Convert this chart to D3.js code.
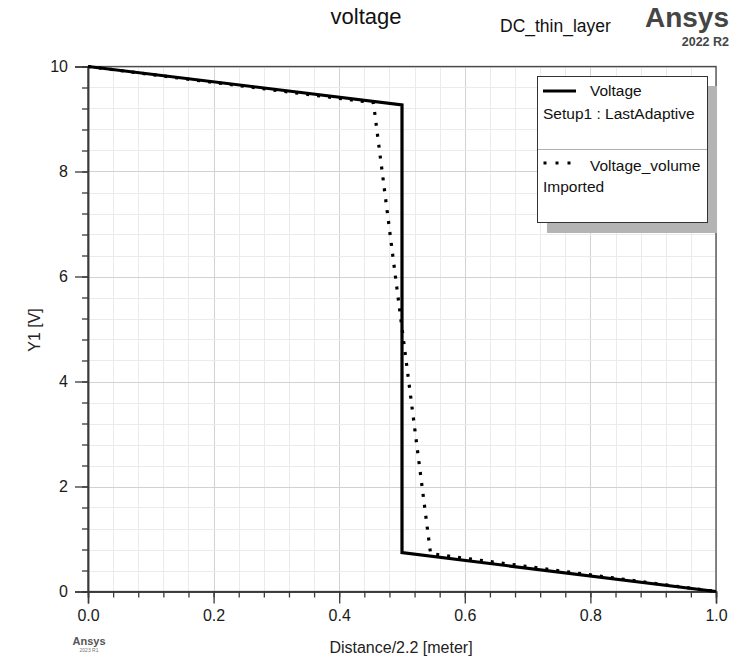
<!DOCTYPE html>
<html>
<head>
<meta charset="utf-8">
<script src="https://cdn.jsdelivr.net/npm/d3@7"></script>
<style>
  html, body { margin: 0; padding: 0; background: #fff; }
  svg { display: block; font-family: "Liberation Sans", Arial, sans-serif; }
</style>
</head>
<body>
<svg id="chart" width="738" height="659"></svg>
<script>
// ---- data ----
const xTickLabels = ["0.0", "0.2", "0.4", "0.6", "0.8", "1.0"];
const yTickLabels = ["0", "2", "4", "6", "8", "10"];
const voltageX = [0, 0.5, 0.5, 1.0];
const voltageY = [10, 9.27, 0.74, 0];
const volumeX = [0, 0.4545, 0.5455, 1.0];
const volumeY = [10, 9.31, 0.72, 0];
const legendItems = ["Voltage", "Setup1 : LastAdaptive", "Voltage_volume", "Imported"];

// ---- layout ----
const svg = d3.select("#chart");
const L = 88, R = 716, T = 66.5, B = 591.5;
const x = d3.scaleLinear().domain([0, 1]).range([L, R]);
const y = d3.scaleLinear().domain([0, 10]).range([B, T]);

const xMinor = d3.range(0, 1.0001, 0.04);
const yMinor = d3.range(0, 10.0001, 0.4);
const xMajor = xTickLabels.map(Number);
const yMajor = yTickLabels.map(Number);

// grid
const grid = svg.append("g");
grid.selectAll("line.vx").data(xMinor).join("line")
  .attr("x1", d => Math.round(x(d)) + 0.5).attr("x2", d => Math.round(x(d)) + 0.5)
  .attr("y1", T).attr("y2", B)
  .attr("stroke", d => xMajor.some(m => Math.abs(m - d) < 1e-6) ? "#d2d2d2" : "#ebebeb")
  .attr("stroke-width", 1);
grid.selectAll("line.hy").data(yMinor).join("line")
  .attr("y1", d => Math.round(y(d)) + 0.5).attr("y2", d => Math.round(y(d)) + 0.5)
  .attr("x1", L).attr("x2", R)
  .attr("stroke", d => yMajor.some(m => Math.abs(m - d) < 1e-6) ? "#d2d2d2" : "#ebebeb")
  .attr("stroke-width", 1);

// frame
svg.append("rect").attr("x", L).attr("y", T).attr("width", R - L).attr("height", B - T)
  .attr("fill", "none").attr("stroke", "#4a4a4a").attr("stroke-width", 1.3);

// axes
const xAxisMinor = d3.axisBottom(x).tickValues(xMinor).tickSize(6).tickFormat("");
const xAxisMajor = d3.axisBottom(x).tickValues(xMajor).tickSize(12).tickPadding(6)
  .tickFormat((d, i) => xTickLabels[i]);
const yAxisMinor = d3.axisLeft(y).tickValues(yMinor).tickSize(6).tickFormat("");
const yAxisMajor = d3.axisLeft(y).tickValues(yMajor).tickSize(13).tickPadding(7)
  .tickFormat((d, i) => yTickLabels[i]);

function styleAxis(g) {
  g.select(".domain").attr("stroke", "#3a3a3a").attr("stroke-width", 1.5);
  g.selectAll(".tick line").attr("stroke", "#3a3a3a").attr("stroke-width", 1.3);
  g.selectAll(".tick text").attr("fill", "#1a1a1a").attr("font-size", 16)
    .attr("font-family", "Liberation Sans, Arial, sans-serif");
}
svg.append("g").attr("transform", `translate(0,${B})`).call(xAxisMinor).call(styleAxis);
svg.append("g").attr("transform", `translate(0,${B})`).call(xAxisMajor).call(styleAxis);
svg.append("g").attr("transform", `translate(0,${B})`).call(g => g); // placeholder keeps order
svg.append("g").attr("transform", `translate(${L},0)`).call(yAxisMinor).call(styleAxis);
svg.append("g").attr("transform", `translate(${L},0)`).call(yAxisMajor).call(styleAxis);

// lines
const line = d3.line().x(d => x(d[0])).y(d => y(d[1]));
svg.append("path").datum(voltageX.map((v, i) => [v, voltageY[i]]))
  .attr("d", line).attr("fill", "none").attr("stroke", "#000")
  .attr("stroke-width", 3.2).attr("stroke-linejoin", "miter");
svg.append("path").datum(volumeX.map((v, i) => [v, volumeY[i]]))
  .attr("d", line).attr("fill", "none").attr("stroke", "#000")
  .attr("stroke-width", 3.2).attr("stroke-dasharray", "3,8");

// legend
const lg = svg.append("g");
lg.append("rect").attr("x", 547).attr("y", 86).attr("width", 170).attr("height", 147).attr("fill", "#b4b4b4");
lg.append("rect").attr("x", 537.5).attr("y", 76.5).attr("width", 170).attr("height", 146)
  .attr("fill", "#fff").attr("stroke", "#333").attr("stroke-width", 1);
lg.append("line").attr("x1", 538).attr("x2", 707).attr("y1", 149.5).attr("y2", 149.5)
  .attr("stroke", "#b0b0b0").attr("stroke-width", 1);
lg.append("line").attr("x1", 543).attr("x2", 576).attr("y1", 91).attr("y2", 91)
  .attr("stroke", "#000").attr("stroke-width", 3);
lg.append("line").attr("x1", 543.5).attr("x2", 572).attr("y1", 163).attr("y2", 163)
  .attr("stroke", "#000").attr("stroke-width", 3).attr("stroke-dasharray", "3,9");
const lt = [[590, 96, legendItems[0]], [543, 119, legendItems[1]], [590, 171, legendItems[2]], [543, 192, legendItems[3]]];
lg.selectAll("text").data(lt).join("text")
  .attr("x", d => d[0]).attr("y", d => d[1]).text(d => d[2])
  .attr("font-size", 15.5).attr("fill", "#111");

// titles
svg.append("text").attr("x", 366).attr("y", 24).attr("text-anchor", "middle")
  .attr("font-size", 22).attr("fill", "#111").text("voltage");
svg.append("text").attr("x", 500).attr("y", 32)
  .attr("font-size", 17.5).attr("fill", "#111").text("DC_thin_layer");
svg.append("text").attr("x", 729).attr("y", 27).attr("text-anchor", "end")
  .attr("font-size", 28).attr("font-weight", "bold").attr("fill", "#454545").text("Ansys");
svg.append("text").attr("x", 729).attr("y", 46).attr("text-anchor", "end")
  .attr("font-size", 12.5).attr("font-weight", "bold").attr("fill", "#454545").text("2022 R2");

svg.append("text").attr("transform", "translate(40,330) rotate(-90)").attr("text-anchor", "middle")
  .attr("font-size", 16).attr("fill", "#222").text("Y1 [V]");
svg.append("text").attr("x", 401).attr("y", 653).attr("text-anchor", "middle")
  .attr("font-size", 16).attr("fill", "#222").text("Distance/2.2 [meter]");

svg.append("text").attr("x", 89).attr("y", 645).attr("text-anchor", "middle")
  .attr("font-size", 11).attr("font-weight", "bold").attr("fill", "#555").text("Ansys");
svg.append("text").attr("x", 89).attr("y", 652).attr("text-anchor", "middle")
  .attr("font-size", 5).attr("fill", "#777").text("2023 R1");
</script>
</body>
</html>
